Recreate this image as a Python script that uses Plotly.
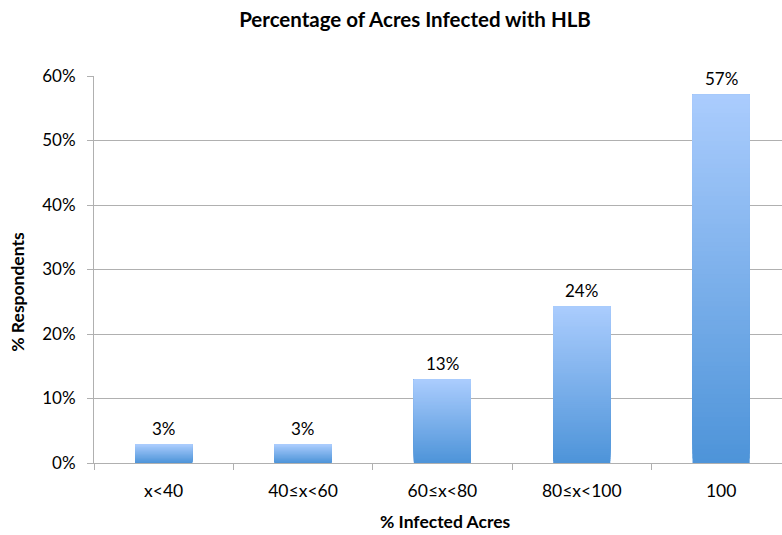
import plotly.graph_objects as go

categories = ["x<40", "40≤x<60", "60≤x<80", "80≤x<100", "100"]
values = [2.9, 2.9, 12.9, 24.3, 57.1]
y_ticks = [0, 10, 20, 30, 40, 50, 60]
y_tick_labels = [f"{t}%" for t in y_ticks]

title_text = "Percentage of Acres Infected with HLB"
x_title = "% Infected Acres"
y_title = "% Respondents"

FONT = "Lato"
top_rgb = (170, 204, 253)
bot_rgb = (78, 148, 217)
N = 80

seg_x, seg_base, seg_h, seg_col = [], [], [], []
for cat, v in zip(categories, values):
    for i in range(N):
        f = i / (N - 1)
        b = v * i / N
        c = tuple(round(bot_rgb[k] + (top_rgb[k] - bot_rgb[k]) * f) for k in range(3))
        seg_x.append(cat)
        seg_base.append(b)
        seg_h.append(v - b)
        seg_col.append(f"rgb{c}")

l, r, t, b = 94, 0, 76, 71.5
W, H = 782, 535
pw, ph = W - l - r, H - t - b

fig = go.Figure()
fig.add_trace(go.Bar(
    x=seg_x, y=seg_h, base=seg_base,
    width=0.41,
    marker=dict(color=seg_col, line=dict(width=0)),
    hoverinfo="skip",
    showlegend=False,
))

for idx, v in enumerate(values):
    fig.add_annotation(
        x=idx, y=v, xref="x", yref="y",
        text=f"{v:.0f}%", showarrow=False,
        yanchor="middle", yshift=16,
        bgcolor="white", borderpad=2,
        font=dict(family=FONT, size=17, color="black"),
    )

fig.add_annotation(
    x=(445.5 - l) / pw, y=(H - b - 522) / ph, xref="paper", yref="paper",
    text=f"<b>{x_title}</b>", showarrow=False,
    xanchor="center", yanchor="middle",
    font=dict(family=FONT, size=17.5, color="black"),
)
fig.add_annotation(
    x=(18 - l) / pw, y=(H - b - 292) / ph, xref="paper", yref="paper",
    text=f"<b>{y_title}</b>", showarrow=False, textangle=-90,
    xanchor="center", yanchor="middle",
    font=dict(family=FONT, size=17.5, color="black"),
)

fig.update_layout(
    width=W, height=H,
    margin=dict(l=l, r=r, t=t, b=b),
    plot_bgcolor="white", paper_bgcolor="white",
    barmode="overlay",
    title=dict(
        text=f"<b>{title_text}</b>",
        x=415 / W, xanchor="center",
        y=1 - 20 / H, yanchor="middle",
        font=dict(family=FONT, size=20.5, color="black"),
    ),
    font=dict(family=FONT, size=17, color="black"),
)
fig.update_xaxes(
    categoryorder="array", categoryarray=categories,
    range=[-0.5, 4.437],
    showline=True, linecolor="#B0B0B0", linewidth=1,
    ticks="outside", tickson="boundaries", ticklen=6, tickcolor="#B0B0B0",
    ticklabelstandoff=12,
    showgrid=False, zeroline=False,
    tickfont=dict(family=FONT, size=17.5, color="black"),
)
fig.update_yaxes(
    range=[0, 60], tickvals=y_ticks, ticktext=y_tick_labels,
    showline=True, linecolor="#B0B0B0", linewidth=1,
    ticks="outside", ticklen=6, tickcolor="#B0B0B0",
    ticklabelstandoff=8,
    showgrid=True, gridcolor="#B0B0B0", gridwidth=1,
    zeroline=False,
    tickfont=dict(family=FONT, size=17, color="black"),
)

fig.write_html("out.html", config={"displayModeBar": False},
               post_script="document.body.style.margin='0';")
